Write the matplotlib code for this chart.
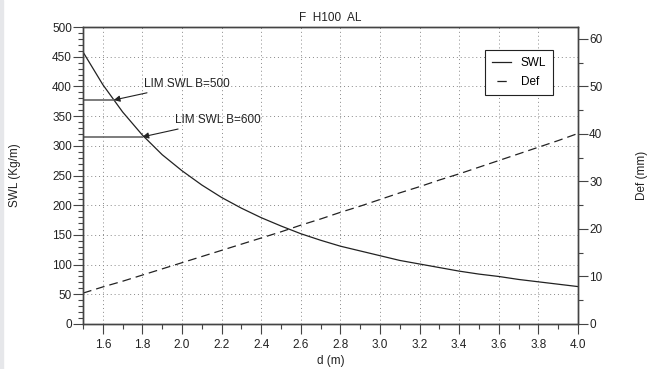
import numpy as np
import matplotlib
matplotlib.use('Agg')
import matplotlib.pyplot as plt
from matplotlib.lines import Line2D
from matplotlib.ticker import MultipleLocator, FixedLocator
matplotlib.rcParams.update({'font.size': 8.5, 'font.family': 'Liberation Sans'})

# d (m) and the two curves
d = [1.5, 1.6, 1.7, 1.8, 1.9, 2.0, 2.1, 2.2, 2.3, 2.4, 2.5, 2.6, 2.7,
     2.8, 2.9, 3.0, 3.1, 3.2, 3.3, 3.4, 3.5, 3.6, 3.7, 3.8, 3.9, 4.0]
swl = [458, 403, 357, 318, 285, 258, 234, 213, 195, 179, 165, 152, 141,
       131, 123, 115, 107, 101, 95, 89, 84, 80, 75, 71, 67, 63]
defl = [6.5, 7.8, 9.0, 10.3, 11.6, 12.9, 14.2, 15.5, 16.8, 18.1, 19.4, 20.8, 22.1,
        23.5, 24.8, 26.2, 27.6, 28.9, 30.3, 31.6, 33.0, 34.4, 35.8, 37.2, 38.6, 40.1]

# limit lines: (label, d at curve, SWL value)
lim_labels = ['LIM SWL B=500', 'LIM SWL B=600']
lim_d = [1.655, 1.8]
lim_swl = [377, 315]
lim_text_pos = [(1.81, 404), (1.965, 343)]

fig = plt.figure(figsize=(6.56, 3.69), dpi=100)
fig.patches.append(plt.Rectangle((0, 0), 3 / 656, 1, transform=fig.transFigure,
                                 color='#e6e7ea', zorder=0))
ax1 = fig.add_axes([83 / 656, 1 - 324 / 369, 495 / 656, 297 / 369])
ax2 = ax1.twinx()

ax1.plot(d, swl, color='#222222', lw=0.9, label='SWL')
ax2.plot(d, defl, color='#222222', lw=0.9, ls=(0, (7, 4)), label='Def')

for lab, xd, ys, (tx, ty) in zip(lim_labels, lim_d, lim_swl, lim_text_pos):
    ax1.plot([1.5, xd], [ys, ys], color='#666666', lw=1.2)
    ax1.annotate(lab, xy=(xd, ys), xytext=(tx, ty), va='center', ha='left',
                 fontsize=8.5, color='#222222',
                 arrowprops=dict(arrowstyle='-|>', color='#222222', lw=0.8,
                                 mutation_scale=9, shrinkA=0, shrinkB=0))

ax1.set_xlim(1.5, 4.0)
ax1.set_ylim(0, 500)
ax2.set_ylim(0, 62.5)

ax1.xaxis.set_major_locator(FixedLocator(np.round(np.arange(1.6, 4.01, 0.2), 1)))
ax1.xaxis.set_minor_locator(MultipleLocator(0.1))
ax1.set_xticklabels(['%.1f' % v for v in np.arange(1.6, 4.01, 0.2)])
ax1.yaxis.set_major_locator(MultipleLocator(50))
ax1.yaxis.set_minor_locator(MultipleLocator(10))
ax2.yaxis.set_major_locator(FixedLocator([0, 10, 20, 30, 40, 50, 60]))
ax2.yaxis.set_minor_locator(MultipleLocator(5))

for a in (ax1, ax2):
    a.tick_params(which='major', length=7, width=0.8, color='#444444', labelcolor='#222222')
    a.tick_params(which='minor', length=3.5, width=0.8, color='#444444')
    for s in a.spines.values():
        s.set_color('#444444')
        s.set_linewidth(1.0)
ax1.tick_params(axis='y', pad=1)
ax2.tick_params(axis='y', pad=1)

ax1.grid(True, which='major', ls=(0, (1, 3)), color='#888888', lw=0.7)

ax1.set_title('F  H100  AL', fontsize=8.5, color='#222222', pad=4)
ax1.set_xlabel('d (m)', color='#222222', labelpad=3)
ax1.set_ylabel('SWL (Kg/m)', color='#222222')
ax1.yaxis.set_label_coords(-62 / 495, 0.5)
ax2.set_ylabel('Def (mm)', color='#222222')
ax2.yaxis.set_label_coords(1 + 58 / 495, 0.5)

# legend: solid line and a single centred dash
h1 = Line2D([], [], color='#222222', lw=0.9)
h2 = Line2D([], [], color='#222222', lw=0.9, ls=(33.6, (7.5, 30)))
leg = ax1.legend([h1, h2], ['SWL', 'Def'], loc='upper right',
                 bbox_to_anchor=(476 / 495, 1 - 17 / 297), fancybox=False,
                 edgecolor='#222222', framealpha=1, handlelength=1.6,
                 borderpad=0.6, labelspacing=0.6, fontsize=8.5)
leg.get_frame().set_linewidth(0.8)

plt.savefig('out.png', dpi=100)
